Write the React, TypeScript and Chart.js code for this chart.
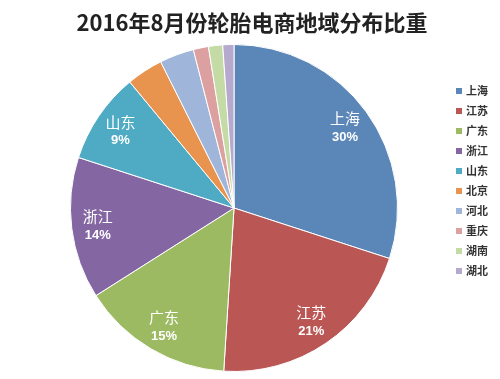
import React, { useEffect, useRef } from "react";
import { Chart, registerables } from "chart.js";

Chart.register(...registerables);

const title = "2016年8月份轮胎电商地域分布比重";
const regions = ["上海", "江苏", "广东", "浙江", "山东", "北京", "河北", "重庆", "湖南", "湖北"];
const shares = [30, 21, 15, 14, 9, 3.6, 3.4, 1.5, 1.4, 1.1];
const shownLabels = [true, true, true, true, true, false, false, false, false, false];
const colors = [
  "#5B86B8",
  "#BA5654",
  "#9CBA62",
  "#8467A2",
  "#4FAAC4",
  "#E8934E",
  "#A0B5DA",
  "#DCA0A0",
  "#C5DBA6",
  "#B5A9CD",
];

const overlay = {
  id: "overlay",
  afterDatasetsDraw(chart: any) {
    const ctx = chart.ctx;
    ctx.save();
    // title
    ctx.fillStyle = "#222";
    ctx.font = "bold 22px 'Noto Sans CJK SC', sans-serif";
    ctx.textAlign = "center";
    ctx.textBaseline = "middle";
    ctx.fillText(title, 252, 23);

    // slice labels
    const meta = chart.getDatasetMeta(0);
    const total = shares.reduce((a, b) => a + b, 0);
    meta.data.forEach((arc: any, i: number) => {
      if (!shownLabels[i]) return;
      const { x, y, startAngle, endAngle, outerRadius } = arc.getProps(
        ["x", "y", "startAngle", "endAngle", "outerRadius"],
        true
      );
      const mid = (startAngle + endAngle) / 2;
      const r = outerRadius * 0.84;
      const cx = x + Math.cos(mid) * r;
      const cy = y + Math.sin(mid) * r;
      ctx.fillStyle = "#ffffff";
      ctx.textAlign = "center";
      ctx.textBaseline = "middle";
      ctx.font = "15px 'Noto Sans CJK SC', serif";
      ctx.fillText(regions[i], cx, cy - 9);
      ctx.font = "bold 13px 'Liberation Sans', 'DejaVu Sans', sans-serif";
      ctx.fillText(Math.round((shares[i] / total) * 100) + "%", cx, cy + 10);
    });

    // legend
    ctx.textAlign = "left";
    ctx.textBaseline = "middle";
    ctx.font = "bold 11px 'Noto Sans CJK SC', sans-serif";
    regions.forEach((name, i) => {
      const ly = 91 + i * 20;
      ctx.fillStyle = colors[i];
      ctx.fillRect(456, ly - 3, 6, 6);
      ctx.fillStyle = "#333";
      ctx.fillText(name, 466, ly);
    });
    ctx.restore();
  },
};

export default function App() {
  const ref = useRef<HTMLCanvasElement | null>(null);
  useEffect(() => {
    document.body.style.margin = "0";
    const chart = new Chart(ref.current as HTMLCanvasElement, {
      type: "pie",
      data: {
        labels: regions,
        datasets: [
          {
            data: shares,
            backgroundColor: colors,
            borderColor: "#ffffff",
            borderWidth: 1,
          },
        ],
      },
      options: {
        animation: false,
        responsive: false,
        layout: { padding: { top: 44, bottom: 7, left: 70, right: 102 } },
        plugins: {
          legend: { display: false },
          tooltip: { enabled: false },
          title: { display: false },
        },
      },
      plugins: [overlay],
    });
    return () => chart.destroy();
  }, []);
  return (
    <div style={{ width: 500, height: 379, background: "#fff" }}>
      <canvas ref={ref} width={500} height={379} />
    </div>
  );
}
